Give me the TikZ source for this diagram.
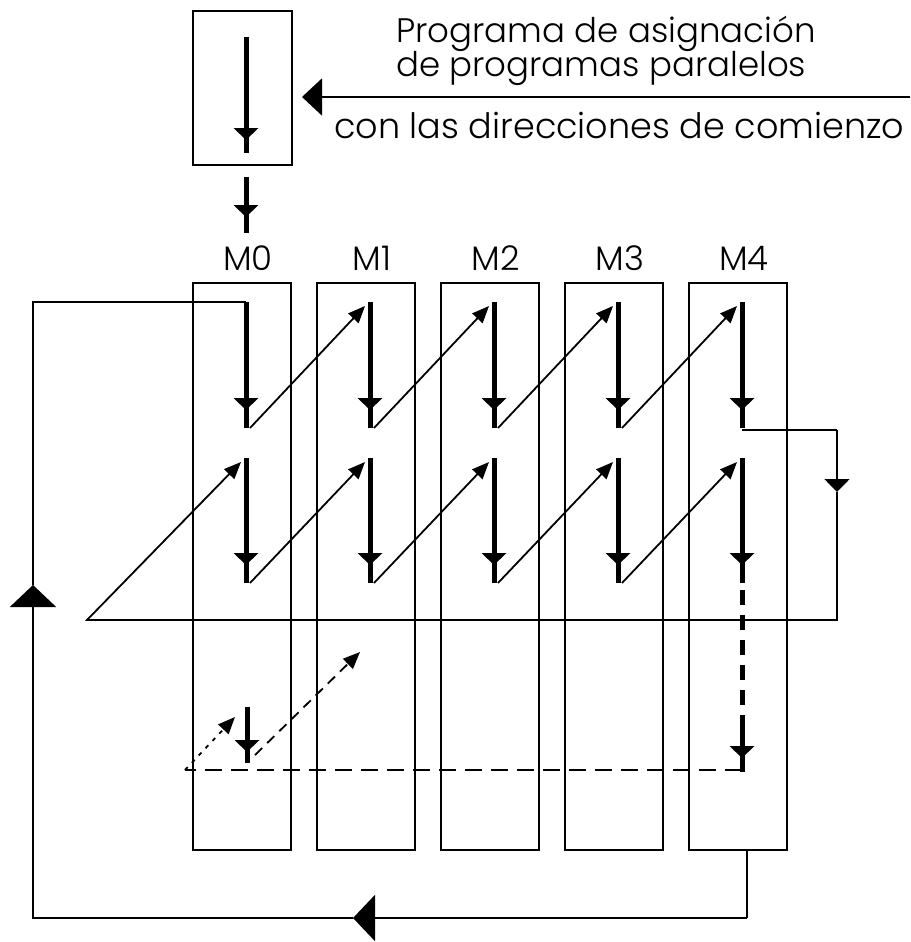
\documentclass[tikz,border=0pt]{standalone}
\usepackage{fontspec}
\setmainfont{Poppins}[UprightFont=* Light]
\usetikzlibrary{arrows.meta}
\tikzset{
  boxline/.style={draw=black, line width=2pt},
  membox/.style={boxline, minimum width=98pt, minimum height=567pt, inner sep=0pt, outer sep=0pt},
  topbox/.style={boxline, minimum width=99pt, minimum height=154pt, inner sep=0pt, outer sep=0pt},
  fat/.style={line width=5pt},
  dhead/.pic={\fill (-12.5,-12) -- (12.5,-12) -- (0,0) -- cycle;},
  thinln/.style={line width=1.8pt},
  thinhead/.style={thinln, -{Triangle[width=14pt,length=17pt]}},
  bighead/.style={thinln, -{Triangle[width=46pt,length=22pt]}},
  medhead/.style={thinln, -{Triangle[width=25pt,length=13pt]}},
  lbl/.style={inner sep=0pt, font=\fontsize{34}{40}\selectfont},
  mlbl/.style={inner sep=0pt, anchor=base, font=\fontsize{34}{40}\selectfont}
}
\begin{document}
\begin{tikzpicture}[x=1pt,y=-1pt]
\useasboundingbox (0,0) rectangle (910,942);
\fill[white] (0,0) rectangle (910,942);

% top box
\node[topbox] (tb) at (242.5,88) {};
\coordinate (tbA) at (246,37);
\coordinate (tbT) at (246,140);
\coordinate (tbB) at (246,153);
\draw[fat] (tbA) -- (tbB);
\pic at (tbT) {dhead};
\coordinate (dA) at (246,177);
\coordinate (dT) at (246,217);
\coordinate (dB) at (246,233);
\draw[fat] (dA) -- (dB);
\pic at (dT) {dhead};

% incoming arrow and text
\coordinate (inR) at (910,97);
\coordinate (inT) at (302,97);
\draw[thinln, -{Triangle[width=37pt,length=20pt]}] (inR) -- (inT);
\node[lbl, anchor=base west] (t1) at (396,43) {Programa de asignación};
\node[lbl, anchor=base west] (t2) at (396,77) {de programas paralelos};
\node[lbl, anchor=base west, font=\fontsize{35}{40}\selectfont] (t3) at (334,138) {con las direcciones de comienzo};

% memory boxes
\foreach \i/\nm in {0/M0,1/M1,2/M2,3/M3,4/M4}{
  \pgfmathsetmacro{\bx}{242+124*\i}
  \pgfmathsetmacro{\ax}{246+124*\i}
  \node[membox] (m\i) at (\bx,566.5) {};
  \node[mlbl] (l\i) at (\ax+2,270) {\nm};
  \coordinate (a\i-top) at (\ax,302);
  \coordinate (a\i-tip) at (\ax,410);
  \coordinate (a\i-bot) at (\ax,428);
  \coordinate (b\i-top) at (\ax,458);
  \coordinate (b\i-tip) at (\ax,565);
  \coordinate (b\i-bot) at (\ax,583);
  \coordinate (a\i-out) at (\ax+4,428);
  \coordinate (b\i-out) at (\ax+4,583);
  \coordinate (a\i-in) at (\ax-5,306);
  \coordinate (b\i-in) at (\ax-5,462);
  \draw[fat] (a\i-top) -- (a\i-bot);
  \pic at (a\i-tip) {dhead};
  \draw[fat] (b\i-top) -- (b\i-bot);
  \pic at (b\i-tip) {dhead};
}
% diagonal hand-overs
\foreach \i/\j in {0/1,1/2,2/3,3/4}{
  \draw[thinhead] (a\i-out) -- (a\j-in);
  \draw[thinhead] (b\i-out) -- (b\j-in);
}

% right loop back to row 2
\coordinate (r0) at (742,430);
\coordinate (r1) at (837,430);
\coordinate (rT) at (837,492);
\coordinate (r2) at (837,620);
\coordinate (r3) at (87,620);
\draw[thinln] (r0) -- (r1);
\draw[medhead] (r1) -- (rT);
\draw[thinhead] (rT) -- (r2) -- (r3) -- (b0-in);

% M4 dashed continuation
\coordinate (c1) at (742,580);
\coordinate (c2) at (742,720);
\coordinate (cT) at (742,758);
\coordinate (cB) at (742,772);
\draw[fat, dash pattern=on 15pt off 10pt, dash phase=15pt] (c1) -- (c2);
\draw[fat] (c2) -- (cB);
\pic at (cT) {dhead};

% bottom dashed return
\coordinate (dr) at (742,770);
\coordinate (dl) at (185,770);
\draw[thinln, dash pattern=on 17pt off 9pt] (dr) -- (dl);
\coordinate (pdT) at (235,717);
\draw[thinln, dash pattern=on 4pt off 6pt, -{Triangle[width=14pt,length=17pt]}] (dl) -- (pdT);
\coordinate (sA) at (247,707);
\coordinate (sT) at (247,752);
\coordinate (sB) at (247,763);
\draw[fat] (sA) -- (sB);
\pic at (sT) {dhead};
\coordinate (ddA) at (255,755);
\coordinate (ddT) at (360,652);
\draw[thinln, dash pattern=on 10pt off 7pt, -{Triangle[width=14pt,length=17pt]}] (ddA) -- (ddT);

% outer feedback loop
\coordinate (f0) at (747,850);
\coordinate (f1) at (747,918);
\coordinate (fT) at (353,918);
\coordinate (f2) at (33,918);
\coordinate (fU) at (33,585);
\coordinate (f3) at (33,302);
\draw[thinln] (f0) -- (f1);
\draw[bighead] (f1) -- (fT);
\draw[bighead] (fT) -- (f2) -- (fU);
\draw[thinln] (fU) -- (f3) -- (a0-top);
\end{tikzpicture}
\end{document}
